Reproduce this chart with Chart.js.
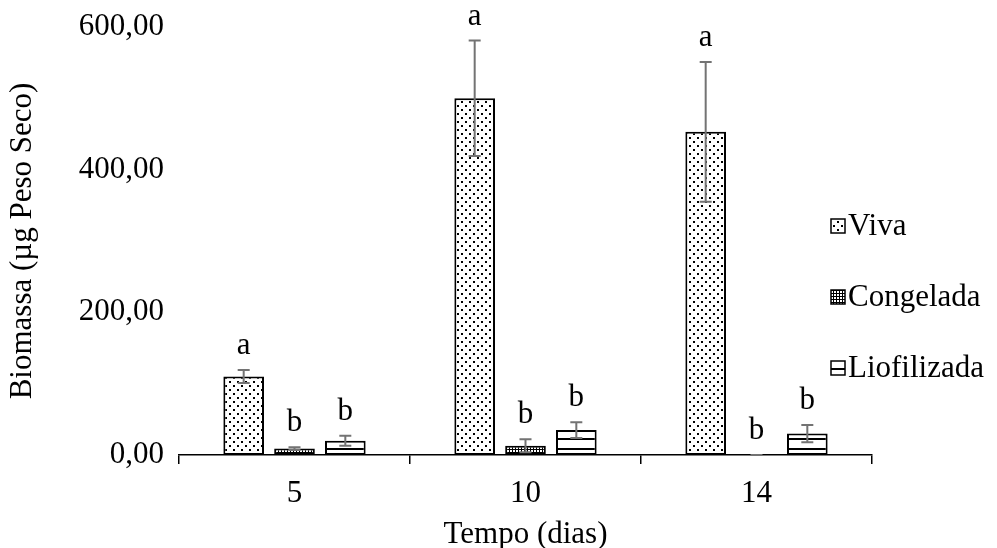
<!DOCTYPE html>
<html>
<head>
<meta charset="utf-8">
<script src="https://cdn.jsdelivr.net/npm/chart.js@4.4.3/dist/chart.umd.min.js"></script>
<style>
  html, body { margin: 0; padding: 0; background: #fff; }
  canvas { display: block; }
</style>
</head>
<body>
<canvas id="biomassChart" width="997" height="548"></canvas>
<script>
// biomassa por tempo de cultivo e tipo de alimento
const dias = ['5', '10', '14'];
const viva = [110, 500, 453];
const vivaErr = [9, 81, 98];
const congelada = [9, 13, 0];
const congeladaErr = [2, 9, 0];
const liofilizada = [20, 35, 30];
const liofilizadaErr = [7, 11, 12];
const vivaLetras = ['a', 'a', 'a'];
const congeladaLetras = ['b', 'b', 'b'];
const liofilizadaLetras = ['b', 'b', 'b'];
const yMax = 600;
const yStep = 200;

const FONT = '"Liberation Serif", "Times New Roman", serif';
const FSIZE = 31;

const canvas = document.getElementById('biomassChart');
const ctx = canvas.getContext('2d');

// small tiles used as bar fills
function makePattern(w, h, draw) {
  const c = document.createElement('canvas');
  c.width = w; c.height = h;
  const g = c.getContext('2d');
  g.fillStyle = '#fff';
  g.fillRect(0, 0, w, h);
  g.fillStyle = '#000';
  draw(g);
  return ctx.createPattern(c, 'repeat');
}

const dotFill = makePattern(8, 8, g => {
  g.fillRect(1, 1, 2, 2);
  g.fillRect(5, 5, 2, 2);
});
const gridFill = makePattern(3, 3, g => {
  g.fillRect(2, 0, 1, 3);
  g.fillRect(0, 2, 3, 1);
});
const lineFill = makePattern(10, 10, g => {
  g.fillRect(0, 8, 10, 2);
});

const series = [
  { label: 'Viva', data: viva, errors: vivaErr, letters: vivaLetras, fill: dotFill },
  { label: 'Congelada', data: congelada, errors: congeladaErr, letters: congeladaLetras, fill: gridFill },
  { label: 'Liofilizada', data: liofilizada, errors: liofilizadaErr, letters: liofilizadaLetras, fill: lineFill }
];

// whiskers + significance letters on top of each bar
const errorBars = {
  id: 'errorBars',
  afterDatasetsDraw(chart) {
    const c = chart.ctx;
    const y = chart.scales.y;
    c.save();
    chart.data.datasets.forEach((ds, di) => {
      const meta = chart.getDatasetMeta(di);
      meta.data.forEach((bar, i) => {
        const v = ds.data[i], e = ds.errors[i];
        const yTop = y.getPixelForValue(v + e);
        const yBot = y.getPixelForValue(Math.max(0, v - e));
        c.strokeStyle = '#737373';
        c.lineWidth = 2;
        c.beginPath();
        c.moveTo(bar.x, yTop); c.lineTo(bar.x, yBot);
        c.moveTo(bar.x - 6, yTop); c.lineTo(bar.x + 6, yTop);
        c.moveTo(bar.x - 6, yBot); c.lineTo(bar.x + 6, yBot);
        c.stroke();
        c.fillStyle = '#000';
        c.font = FSIZE + 'px ' + FONT;
        c.textAlign = 'center';
        c.textBaseline = 'alphabetic';
        c.fillText(ds.letters[i], bar.x, yTop - 16);
      });
    });
    c.restore();
  }
};

// legend on the right, boxes filled with the same patterns
const sideLegend = {
  id: 'sideLegend',
  afterDraw(chart) {
    const c = chart.ctx;
    c.save();
    c.font = FSIZE + 'px ' + FONT;
    c.textBaseline = 'middle';
    c.textAlign = 'left';
    const ys = [226, 297, 368];
    chart.data.datasets.forEach((ds, i) => {
      const bx = 831, by = ys[i] - 7;
      c.fillStyle = ds.backgroundColor;
      c.fillRect(bx, by, 14, 14);
      c.strokeStyle = '#000';
      c.lineWidth = 1.5;
      c.strokeRect(bx, by, 14, 14);
      c.fillStyle = '#000';
      c.fillText(ds.label, 848, ys[i] + 1);
    });
    c.restore();
  }
};

new Chart(ctx, {
  type: 'bar',
  data: {
    labels: dias,
    datasets: series.map(s => ({
      label: s.label,
      data: s.data,
      errors: s.errors,
      letters: s.letters,
      backgroundColor: s.fill,
      borderColor: '#000',
      borderWidth: 2,
      borderSkipped: false,
      barPercentage: 0.8,
      categoryPercentage: 0.66
    }))
  },
  options: {
    responsive: false,
    animation: false,
    devicePixelRatio: 1,
    layout: { padding: { left: 0, right: 125, top: 27, bottom: 0 } },
    plugins: {
      legend: { display: false },
      tooltip: { enabled: false }
    },
    scales: {
      x: {
        grid: { display: true, drawOnChartArea: false, drawTicks: true, offset: true, tickLength: 9, color: '#000', lineWidth: 1.5 },
        border: { display: true, color: '#000', width: 1.5 },
        ticks: { color: '#000', font: { family: FONT, size: FSIZE }, padding: 11 },
        title: { display: true, text: 'Tempo (dias)', color: '#000', font: { family: FONT, size: FSIZE, lineHeight: 1 }, padding: { top: 0, bottom: -2 } },
        afterFit(scale) { scale.height = 93; }
      },
      y: {
        min: 0,
        max: yMax,
        grid: { display: false, drawTicks: false },
        border: { display: false },
        ticks: {
          stepSize: yStep,
          color: '#000',
          font: { family: FONT, size: FSIZE },
          padding: 15,
          callback: v => v.toFixed(2).replace('.', ',')
        },
        title: { display: true, text: 'Biomassa (µg Peso Seco)', color: '#000', font: { family: FONT, size: FSIZE, lineHeight: 1 }, padding: { top: 7, bottom: 0 } },
        afterFit(scale) {
          scale.width = 179;
          // keep the plot top at the layout padding, not label padding
          scale.paddingTop = 0;
          scale.paddingBottom = 0;
        }
      }
    }
  },
  plugins: [errorBars, sideLegend]
});
</script>
</body>
</html>
